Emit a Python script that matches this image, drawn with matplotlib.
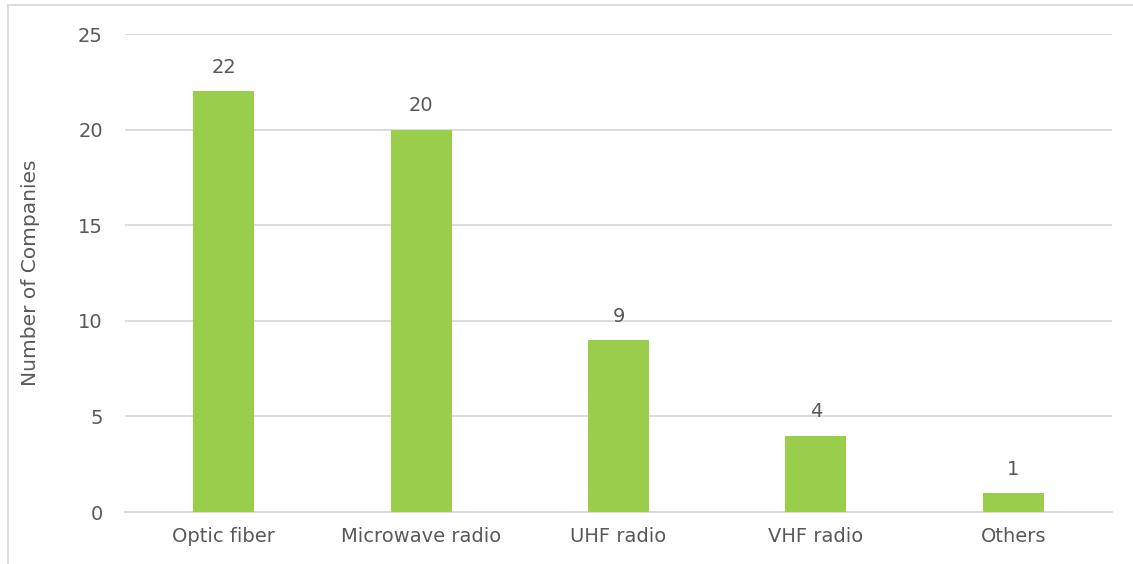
import matplotlib.pyplot as plt
from matplotlib.patches import Rectangle

# Data
categories = ['Optic fiber', 'Microwave radio', 'UHF radio', 'VHF radio', 'Others']
companies = [22, 20, 9, 4, 1]

bar_color = '#9BCD4C'
text_color = '#595959'
grid_color = '#D9D9D9'

plt.rcParams['font.family'] = 'DejaVu Sans'

fig = plt.figure(figsize=(11.33, 5.64), dpi=100)
ax = fig.add_axes([125 / 1133, 52 / 564, 987 / 1133, 478 / 564])

x = range(len(categories))
ax.bar(x, companies, width=0.31, color=bar_color, zorder=3)
for xi, v in zip(x, companies):
    ax.text(xi, v + 0.75, str(v), ha='center', va='bottom',
            fontsize=14, color=text_color)

ax.set_xlim(-0.5, len(categories) - 0.5)
ax.set_ylim(0, 25)
ax.set_yticks(range(0, 26, 5))
ax.set_xticks(list(x))
ax.set_xticklabels(categories)
ax.tick_params(axis='both', length=0, labelsize=14, labelcolor=text_color)
ax.tick_params(axis='y', pad=16)
ax.tick_params(axis='x', pad=11)
ax.yaxis.grid(True, color=grid_color, linewidth=1.3, zorder=0)
for s in ['top', 'right', 'left']:
    ax.spines[s].set_visible(False)
ax.spines['bottom'].set_color(grid_color)
ax.spines['bottom'].set_linewidth(1.3)
ax.set_ylabel('Number of Companies', fontsize=14.5, color=text_color, labelpad=27)

# chart frame
fig.patches.append(Rectangle((8 / 1133, -0.1), 1.2, (559 / 564) + 0.1,
                             transform=fig.transFigure, fill=False,
                             edgecolor=grid_color, linewidth=1.3))

fig.savefig('out.png', dpi=100)
